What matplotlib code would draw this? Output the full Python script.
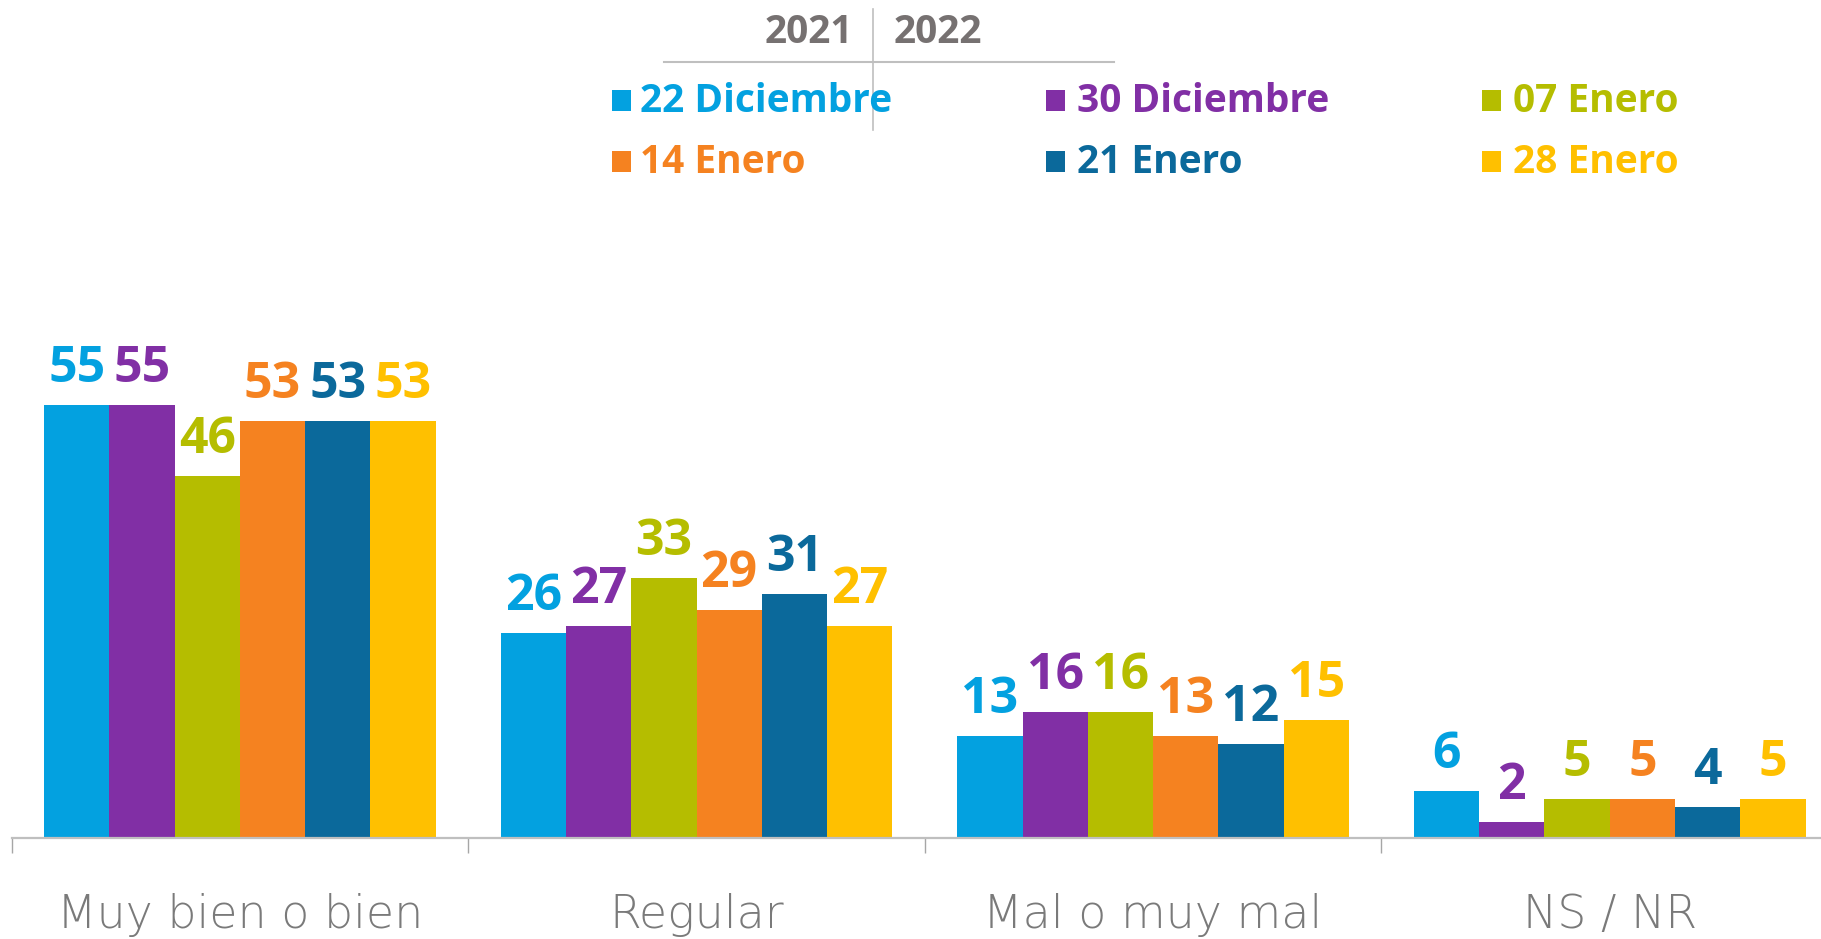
import matplotlib
matplotlib.use("Agg")
import matplotlib.pyplot as plt
import matplotlib.transforms as mtransforms
from matplotlib.patches import Rectangle
from matplotlib.lines import Line2D
import numpy as np

# ---- data ----
categories = ["Muy bien o bien", "Regular", "Mal o muy mal", "NS / NR"]
series_names = ["22 Diciembre", "30 Diciembre", "07 Enero", "14 Enero", "21 Enero", "28 Enero"]
s_22dic = [55, 26, 13, 6]
s_30dic = [55, 27, 16, 2]
s_07ene = [46, 33, 16, 5]
s_14ene = [53, 29, 13, 5]
s_21ene = [53, 31, 12, 4]
s_28ene = [53, 27, 15, 5]
series_values = [s_22dic, s_30dic, s_07ene, s_14ene, s_21ene, s_28ene]
colors = ["#03A1E0", "#812FA5", "#B5BD00", "#F58220", "#0B699B", "#FFC000"]
years = ["2021", "2022"]

W, H = 1821, 939
fig = plt.figure(figsize=(W / 100, H / 100), dpi=100)


def fx(px):
    return px / W


def fy(py):
    return 1 - py / H


cat_w = 456.6
ax = fig.add_axes([fx(11.6), fy(838), 4 * cat_w / W, 838 / H])
ax.set_xlim(-0.5, 3.5)
ax.set_ylim(0, 838 / 7.87)

x = np.arange(len(categories))
bw = 0.143
for i, (vals, c) in enumerate(zip(series_values, colors)):
    xs = x + (i - 2.5) * bw
    ax.bar(xs, vals, bw, color=c, linewidth=0, zorder=2)
    for xi, v in zip(xs, vals):
        ax.annotate(str(v), (xi, v), xytext=(0, 16.5), textcoords="offset points",
                    ha="center", va="baseline", fontsize=36, fontweight="bold",
                    color=c, family="Open Sans")

for s in ["top", "right", "left"]:
    ax.spines[s].set_visible(False)
ax.spines["bottom"].set_color("#BFBFBF")
ax.spines["bottom"].set_linewidth(1.6)
ax.set_yticks([])
ax.set_xticks([-0.5, 0.5, 1.5, 2.5, 3.5])
ax.set_xticklabels([])
ax.tick_params(axis="x", length=10.8, width=1, color="#A6A6A6", direction="out")

trans = mtransforms.blended_transform_factory(ax.transData, fig.transFigure)
for i, cat in enumerate(categories):
    ax.text(i, fy(928), cat, transform=trans, ha="center", va="baseline",
            fontsize=33, color="#7A7A7A", family="DejaVu Sans", fontweight="light",
            clip_on=False)

# ---- legend ----
sq_x = [612, 1046, 1482]
tx_x = [640, 1077, 1513]
sq_top = [90, 151]
base_y = [112, 173]
for k, (name, c) in enumerate(zip(series_names, colors)):
    r, col = divmod(k, 3)
    fig.patches.append(Rectangle((fx(sq_x[col]), fy(sq_top[r] + 21)), 19 / W, 21 / H,
                                 transform=fig.transFigure, facecolor=c,
                                 edgecolor="none"))
    fig.text(fx(tx_x[col]), fy(base_y[r]), name, ha="left", va="baseline",
             fontsize=28, fontweight="bold", color=c, family="Open Sans")

# year header
fig.text(fx(853), fy(43), years[0], ha="right", va="baseline", fontsize=28,
         fontweight="bold", color="#767171", family="Open Sans")
fig.text(fx(894), fy(43), years[1], ha="left", va="baseline", fontsize=28,
         fontweight="bold", color="#767171", family="Open Sans")
fig.add_artist(Line2D([fx(872.6)] * 2, [fy(9), fy(130)], transform=fig.transFigure,
                      color="#BFBFBF", lw=1.2))
fig.add_artist(Line2D([fx(664), fx(1114)], [fy(62)] * 2, transform=fig.transFigure,
                      color="#BFBFBF", lw=1.5))

fig.savefig("out.png", dpi=100)
